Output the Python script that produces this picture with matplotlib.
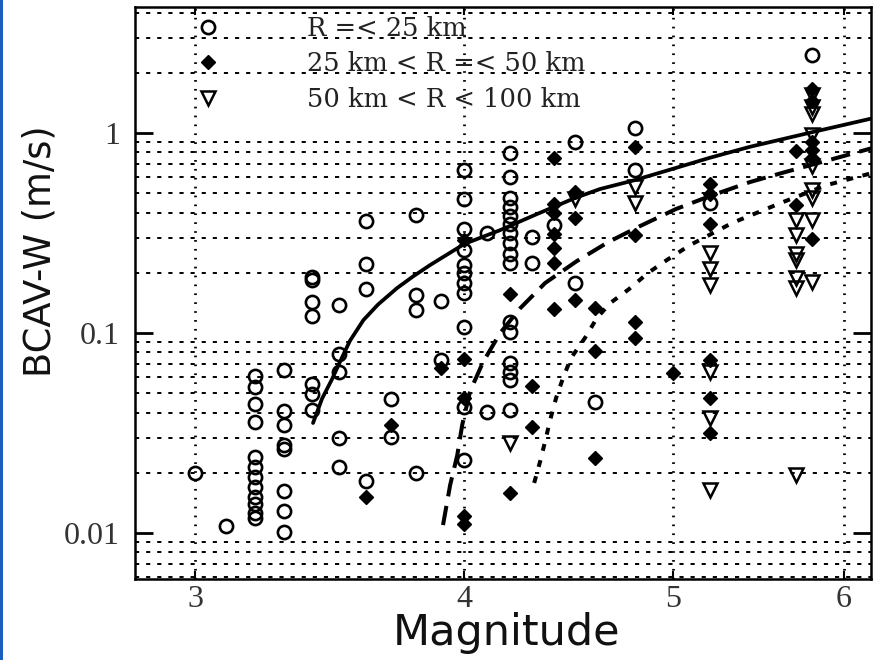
import numpy as np
import matplotlib
matplotlib.use("Agg")
import matplotlib.pyplot as plt
from matplotlib.lines import Line2D
from matplotlib.patches import Rectangle
from matplotlib.font_manager import FontProperties
from matplotlib.ticker import FixedLocator, FixedFormatter, NullFormatter, NullLocator, LogLocator

plt.rcParams['lines.scale_dashes'] = False

# ---- observations: R =< 25 km (open circles) ----
near_mag = [3.0, 3.1, 3.2, 3.3, 3.4, 3.5, 3.6, 3.7, 3.8, 3.9, 4.0, 4.1, 4.2,
            4.3, 4.4, 4.5, 4.6, 4.8, 5.2, 5.8]
near_val = [
    [0.020],
    [0.0108],
    [0.061, 0.0537, 0.0442, 0.0359, 0.024, 0.0214, 0.0191, 0.017, 0.0152, 0.014, 0.0126, 0.0119],
    [0.0653, 0.0407, 0.0347, 0.0275, 0.0263, 0.0162, 0.0129, 0.0101],
    [0.19, 0.184, 0.143, 0.122, 0.0556, 0.0495, 0.0412],
    [0.138, 0.0785, 0.0638, 0.0299, 0.0214],
    [0.363, 0.221, 0.166, 0.0182],
    [0.0468, 0.0302],
    [0.389, 0.155, 0.130, 0.020],
    [0.144, 0.0733],
    [0.653, 0.468, 0.331, 0.26, 0.219, 0.2, 0.178, 0.158, 0.107, 0.0427, 0.0232],
    [0.316, 0.0403],
    [0.794, 0.603, 0.473, 0.427, 0.385, 0.351, 0.316, 0.282, 0.248, 0.224, 0.114, 0.101,
     0.0708, 0.0638, 0.0582, 0.0412],
    [0.302, 0.224],
    [0.347],
    [0.902, 0.178],
    [0.0452],
    [1.06, 0.653],
    [0.447],
    [2.45],
]

# ---- observations: 25 km < R =< 50 km (filled diamonds) ----
mid_mag = [3.6, 3.7, 3.9, 4.0, 4.2, 4.3, 4.4, 4.5, 4.6, 4.8, 5.0, 5.2, 5.7, 5.8]
mid_val = [
    [0.0151],
    [0.0347],
    [0.0668],
    [0.292, 0.0741, 0.0473, 0.0122, 0.0111],
    [0.157, 0.0158],
    [0.0543, 0.0339],
    [0.75, 0.44, 0.40, 0.313, 0.265, 0.224, 0.132],
    [0.507, 0.376, 0.146],
    [0.133, 0.0813, 0.0237],
    [0.851, 0.309, 0.114, 0.0944],
    [0.063],
    [0.556, 0.495, 0.351, 0.0733, 0.0473, 0.0316],
    [0.813, 0.437],
    [1.66, 1.45, 0.905, 0.822, 0.75, 0.295],
]

# ---- observations: 50 km < R < 100 km (open down-triangles) ----
far_mag = [4.2, 4.5, 4.8, 5.2, 5.7, 5.8]
far_val = [
    [0.0282],
    [0.468],
    [0.537, 0.447],
    [0.251, 0.209, 0.174, 0.0638, 0.0376, 0.0164],
    [0.367, 0.309, 0.248, 0.232, 0.188, 0.168, 0.0195],
    [1.55, 1.35, 1.25, 0.977, 0.684, 0.519, 0.473, 0.367, 0.18],
]

# ---- model curves ----
solid_mag = [3.403, 3.436, 3.472, 3.511, 3.540, 3.591, 3.648, 3.723, 3.787, 3.857, 4.0,
             4.156, 4.324, 4.501, 4.624, 4.800, 4.983, 5.201, 5.428, 5.800, 6.184]
solid_val = [0.0355, 0.0470, 0.0585, 0.0760, 0.0915, 0.116, 0.139, 0.168, 0.192, 0.219,
             0.279, 0.327, 0.394, 0.473, 0.525, 0.582, 0.656, 0.753, 0.854, 1.01, 1.184]

dash_mag = [3.910, 3.940, 3.970, 3.991, 4.025, 4.081, 4.156, 4.246, 4.361, 4.511,
            4.665, 4.827, 5.015, 5.200, 5.428, 5.635, 5.976, 6.184]
dash_val = [0.01096, 0.0174, 0.0245, 0.0347, 0.0513, 0.0716, 0.100, 0.133, 0.178, 0.229,
            0.285, 0.343, 0.417, 0.484, 0.569, 0.638, 0.759, 0.841]

dot_mag = [4.310, 4.338, 4.361, 4.384, 4.412, 4.445, 4.483, 4.550, 4.609, 4.674,
           4.770, 4.868, 4.973, 5.090, 5.325, 5.623, 5.894, 6.184]
dot_val = [0.0178, 0.0229, 0.0288, 0.0367, 0.0473, 0.0596, 0.075, 0.0944, 0.119, 0.141,
           0.166, 0.200, 0.234, 0.275, 0.355, 0.452, 0.550, 0.631]

legend_labels = ["R =< 25 km", "25 km < R =< 50 km", "50 km < R < 100 km"]
x_ticks = [3, 4, 5, 6]
y_ticks = [0.01, 0.1, 1]
y_ticklabels = ["0.01", "0.1", "1"]


def expand(mags, vals):
    xs = np.concatenate([[m] * len(v) for m, v in zip(mags, vals)])
    ys = np.concatenate([np.asarray(v, float) for v in vals])
    return xs, ys


W, H = 873, 660
fig = plt.figure(figsize=(W / 100, H / 100), dpi=100)
fig.patch.set_facecolor("white")
ax = fig.add_axes([135 / W, 81 / H, 736 / W, 572 / H])
ax.set_xscale("log")
ax.set_yscale("log")
ax.set_xlim(2.8135, 6.177)
ax.set_ylim(0.00589, 4.27)

# grid: dotted verticals at the magnitudes, short dashes at minor decades
ax.xaxis.set_major_locator(FixedLocator(x_ticks))
ax.xaxis.set_major_formatter(FixedFormatter([str(t) for t in x_ticks]))
ax.xaxis.set_minor_locator(NullLocator())
ax.yaxis.set_major_locator(FixedLocator(y_ticks))
ax.yaxis.set_major_formatter(FixedFormatter(y_ticklabels))
ax.yaxis.set_minor_locator(LogLocator(base=10, subs=np.arange(2, 10)))
ax.yaxis.set_minor_formatter(NullFormatter())
ax.grid(True, which="major", axis="x", color="k", lw=2.0, linestyle=(0, (1.2, 5.2)))
ax.grid(True, which="minor", axis="y", color="k", lw=1.4, linestyle=(0, (3.0, 5.0)))
ax.set_axisbelow(True)

# model curves
ax.plot(solid_mag, solid_val, color="k", lw=2.7, solid_capstyle="round",
        solid_joinstyle="round", zorder=3)
ax.plot(dash_mag, dash_val, color="k", lw=2.9, dashes=(14, 7), zorder=3)
ax.plot(dot_mag, dot_val, color="k", lw=2.9, dashes=(5, 7), zorder=3)

# observations
mk = dict(linestyle="none", markeredgecolor="k", zorder=4)
circ = dict(marker="o", ms=9.5, mfc="none", mew=1.9)
diam = dict(marker="D", ms=7.6, mfc="k", mew=1.0)
tri = dict(marker="v", ms=9.5, mfc="none", mew=1.8)
x, y = expand(near_mag, near_val)
ax.plot(x, y, **circ, **mk)
x, y = expand(mid_mag, mid_val)
ax.plot(x, y, **diam, **mk)
x, y = expand(far_mag, far_val)
ax.plot(x, y, **tri, **mk)

# legend
handles = [Line2D([], [], **circ, **mk), Line2D([], [], **diam, **mk),
           Line2D([], [], **tri, **mk)]
leg = ax.legend(handles, legend_labels, loc="upper left", bbox_to_anchor=(0.0639, 0.984),
                frameon=False, prop=FontProperties(family="DejaVu Serif", size=18.5),
                handlelength=2.0, handletextpad=2.85, labelspacing=0.40,
                borderpad=0.0, borderaxespad=0.0)
for t in leg.get_texts():
    t.set_color("#222222")

# ticks, spines, labels
tick_font = FontProperties(family="Liberation Serif", size=23)
ax.tick_params(axis="y", which="major", direction="in", length=13, width=2.0,
               left=True, right=True, pad=11, labelcolor="#333333")
ax.tick_params(axis="y", which="minor", length=0)
ax.tick_params(axis="x", which="major", direction="in", length=6, width=1.5,
               top=True, bottom=True, pad=4, labelcolor="#333333")
for lab in ax.get_xticklabels() + ax.get_yticklabels():
    lab.set_fontproperties(tick_font)
for s in ax.spines.values():
    s.set_linewidth(1.8)
    s.set_color("k")

ax.set_ylabel("BCAV-W (m/s)", fontsize=26.5, family="DejaVu Sans", color="#111111")
ax.yaxis.set_label_coords(-0.104, 0.573)
ax.set_xlabel("Magnitude", fontsize=31, family="DejaVu Sans", color="#111111")
ax.xaxis.set_label_coords(0.505, -0.058)

# thin blue frame strip on the left edge
fig.add_artist(Rectangle((0, 0), 2.5 / W, 1, transform=fig.transFigure,
                         facecolor="#1a5fc0", edgecolor="none"))

fig.savefig("out.png", dpi=100)
